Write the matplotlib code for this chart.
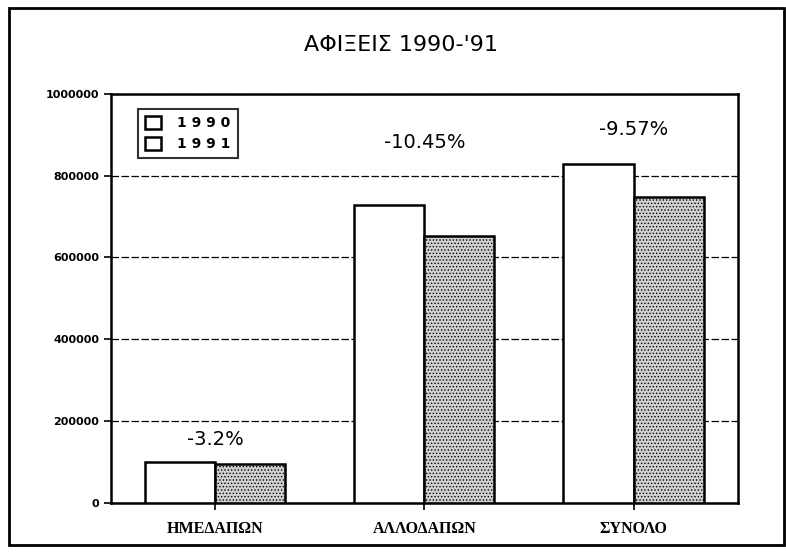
import numpy as np
import matplotlib.pyplot as plt
from matplotlib.patches import Patch, Rectangle

# data
categories = ['ΗΜΕΔΑΠΩΝ', 'ΑΛΛΟΔΑΠΩΝ', 'ΣΥΝΟΛΟ']
arrivals_1990 = [99000, 729000, 828000]
arrivals_1991 = [95800, 652800, 748800]
changes = ['-3.2%', '-10.45%', '-9.57%']
yticks = [0, 200000, 400000, 600000, 800000, 1000000]

plt.rcParams['hatch.color'] = '#333333'
plt.rcParams['hatch.linewidth'] = 0.6

fig = plt.figure(figsize=(7.86, 5.52), dpi=100)
ax = fig.add_axes([0.141, 0.089, 0.798, 0.741])

x = np.arange(len(categories))
w = 0.335
ax.bar(x - w / 2, arrivals_1990, width=w, color='white', edgecolor='black', linewidth=1.8, zorder=3)
ax.bar(x + w / 2, arrivals_1991, width=w, color='#d0d0d0', edgecolor='black', linewidth=1.8,
       hatch='.....', zorder=3)

# percentage change above each group
label_y = [156000, 880000, 912000]
for xi, yi, txt in zip(x, label_y, changes):
    ax.text(xi, yi, txt, ha='center', va='center', fontsize=14, family='DejaVu Sans')

ax.set_xlim(-0.5, 2.5)
ax.set_ylim(0, 1000000)
ax.set_yticks(yticks)
ax.set_yticklabels([str(v) for v in yticks], fontsize=8, fontweight='bold')
ax.set_xticks(x)
ax.set_xticklabels(categories, fontsize=11.5, fontweight='bold', family='Liberation Serif')
ax.tick_params(axis='x', length=5, width=1.2, pad=8)
ax.tick_params(axis='y', length=5, width=1.2)
ax.yaxis.grid(True, color='black', linestyle=(0, (6, 2)), linewidth=0.9, zorder=0)
for s in ax.spines.values():
    s.set_linewidth(1.8)

handles = [Patch(facecolor='white', edgecolor='black', linewidth=1.8),
           Patch(facecolor='white', edgecolor='black', linewidth=1.8)]
leg = ax.legend(handles, ['1 9 9 0', '1 9 9 1'], loc='upper left', bbox_to_anchor=(0.033, 0.98),
                fancybox=False, edgecolor='black', handlelength=1.1, handleheight=1.1,
                handletextpad=1.2, prop={'weight': 'bold', 'size': 10},
                borderpad=0.5, labelspacing=0.45)
leg.get_frame().set_linewidth(1.5)

fig.text(0.51, 0.918, "ΑΦΙΞΕΙΣ 1990-'91", ha='center', va='center', fontsize=16)

# outer frame of the chart area
fig.patches.append(Rectangle((0.012, 0.012), 0.985, 0.973, transform=fig.transFigure,
                             fill=False, edgecolor='black', linewidth=2))

fig.savefig('out.png', dpi=100)
